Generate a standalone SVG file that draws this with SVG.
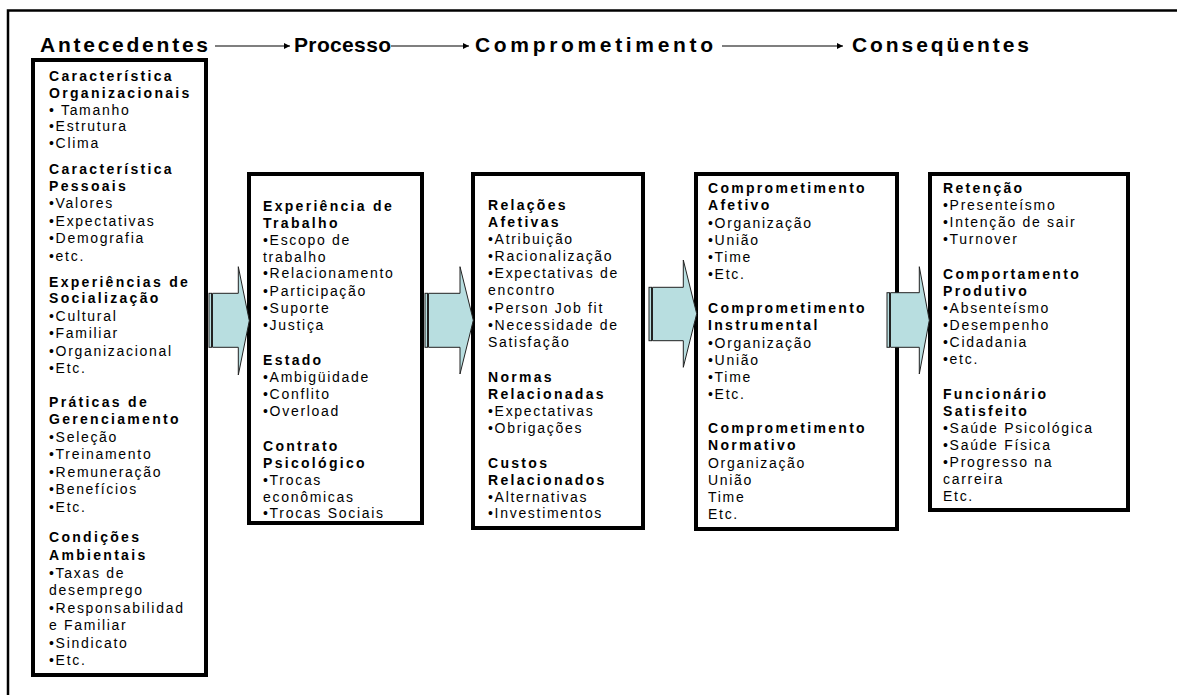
<svg xmlns="http://www.w3.org/2000/svg" width="1177" height="695" viewBox="0 0 1177 695">
<defs>
<style>
.hdr{font-family:"Liberation Sans",Arial,sans-serif;font-weight:bold;font-size:21px;fill:#000}
.b{font-family:"Liberation Sans",Arial,sans-serif;font-weight:bold;font-size:14px;letter-spacing:2.3px;fill:#000}
.r{font-family:"Liberation Sans",Arial,sans-serif;font-size:14px;letter-spacing:1.7px;fill:#000}
.box{fill:#fff;stroke:#000;stroke-width:4}
.ar{fill:#B8DEE0;stroke:#222;stroke-width:1}
.hl{stroke:#000;stroke-width:1.2;fill:none}
</style>
<marker id="ah" viewBox="0 0 10 10" refX="10" refY="5" markerWidth="8" markerHeight="6" markerUnits="userSpaceOnUse" orient="auto">
<path d="M0,0 L10,5 L0,10 Z" fill="#000"/>
</marker>
</defs>
<rect width="1177" height="695" fill="#fff"/>
<path d="M8,695 V10.5 H1177" fill="none" stroke="#000" stroke-width="2.5"/>

<g id="header">
<text class="hdr" x="40" y="52" textLength="168" lengthAdjust="spacing">Antecedentes</text>
<text class="hdr" x="294" y="52" textLength="97" lengthAdjust="spacing">Processo</text>
<text class="hdr" x="475" y="52" textLength="238" lengthAdjust="spacing">Comprometimento</text>
<text class="hdr" x="852" y="52" textLength="177" lengthAdjust="spacing">Conseqüentes</text>
</g>

<g id="connectors">
<line class="hl" x1="215" y1="46" x2="290" y2="46" marker-end="url(#ah)"/>
<line class="hl" x1="391" y1="46" x2="469" y2="46" marker-end="url(#ah)"/>
<line class="hl" x1="722" y1="46" x2="843" y2="46" marker-end="url(#ah)"/>
</g>

<g id="antecedentes">
<rect class="box" x="33" y="60" width="173" height="615"/>
<text class="b" x="49" y="80.5">Característica</text>
<text class="b" x="49" y="97.5">Organizacionais</text>
<text class="r" x="49" y="114.5">• Tamanho</text>
<text class="r" x="49" y="131">•Estrutura</text>
<text class="r" x="49" y="147.5">•Clima</text>
<text class="b" x="49" y="173.5">Característica</text>
<text class="b" x="49" y="190.5">Pessoais</text>
<text class="r" x="49" y="208">•Valores</text>
<text class="r" x="49" y="225.5">•Expectativas</text>
<text class="r" x="49" y="243">•Demografia</text>
<text class="r" x="49" y="260.5">•etc.</text>
<text class="b" x="49" y="286.5">Experiências de</text>
<text class="b" x="49" y="303">Socialização</text>
<text class="r" x="49" y="320.5">•Cultural</text>
<text class="r" x="49" y="338">•Familiar</text>
<text class="r" x="49" y="355.5">•Organizacional</text>
<text class="r" x="49" y="372.5">•Etc.</text>
<text class="b" x="49" y="406.5">Práticas de</text>
<text class="b" x="49" y="424">Gerenciamento</text>
<text class="r" x="49" y="441.5">•Seleção</text>
<text class="r" x="49" y="458.5">•Treinamento</text>
<text class="r" x="49" y="476.5">•Remuneração</text>
<text class="r" x="49" y="493.5">•Benefícios</text>
<text class="r" x="49" y="511.5">•Etc.</text>
<text class="b" x="49" y="541.5">Condições</text>
<text class="b" x="49" y="559.5">Ambientais</text>
<text class="r" x="49" y="577.5">•Taxas de</text>
<text class="r" x="49" y="594.5">desemprego</text>
<text class="r" x="49" y="612.5">•Responsabilidad</text>
<text class="r" x="49" y="630">e Familiar</text>
<text class="r" x="49" y="647.5">•Sindicato</text>
<text class="r" x="49" y="664.5">•Etc.</text>
</g>

<g id="processo">
<rect class="box" x="249" y="174" width="173" height="349"/>
<text class="b" x="263" y="210.5">Experiência de</text>
<text class="b" x="263" y="227.5">Trabalho</text>
<text class="r" x="263" y="245">•Escopo de</text>
<text class="r" x="263" y="261.5">trabalho</text>
<text class="r" x="263" y="278">•Relacionamento</text>
<text class="r" x="263" y="295.5">•Participação</text>
<text class="r" x="263" y="312.5">•Suporte</text>
<text class="r" x="263" y="329.5">•Justiça</text>
<text class="b" x="263" y="364.5">Estado</text>
<text class="r" x="263" y="381.5">•Ambigüidade</text>
<text class="r" x="263" y="398.5">•Conflito</text>
<text class="r" x="263" y="415.5">•Overload</text>
<text class="b" x="263" y="450.5">Contrato</text>
<text class="b" x="263" y="467.5">Psicológico</text>
<text class="r" x="263" y="485">•Trocas</text>
<text class="r" x="263" y="501.5">econômicas</text>
<text class="r" x="263" y="518">•Trocas Sociais</text>
</g>

<g id="comprometimento-relacoes">
<rect class="box" x="473" y="174" width="170" height="354"/>
<text class="b" x="488" y="209.5">Relações</text>
<text class="b" x="488" y="227">Afetivas</text>
<text class="r" x="488" y="243.5">•Atribuição</text>
<text class="r" x="488" y="261">•Racionalização</text>
<text class="r" x="488" y="277.5">•Expectativas de</text>
<text class="r" x="488" y="295">encontro</text>
<text class="r" x="488" y="312.5">•Person Job fit</text>
<text class="r" x="488" y="329.5">•Necessidade de</text>
<text class="r" x="488" y="347">Satisfação</text>
<text class="b" x="488" y="381.5">Normas</text>
<text class="b" x="488" y="398.5">Relacionadas</text>
<text class="r" x="488" y="415.5">•Expectativas</text>
<text class="r" x="488" y="432.5">•Obrigações</text>
<text class="b" x="488" y="467.5">Custos</text>
<text class="b" x="488" y="484.5">Relacionados</text>
<text class="r" x="488" y="501.5">•Alternativas</text>
<text class="r" x="488" y="517.5">•Investimentos</text>
</g>

<g id="comprometimento-tipos">
<rect class="box" x="696" y="174" width="201" height="355"/>
<text class="b" x="708" y="192.5">Comprometimento</text>
<text class="b" x="708" y="210">Afetivo</text>
<text class="r" x="708" y="227.5">•Organização</text>
<text class="r" x="708" y="244.5">•União</text>
<text class="r" x="708" y="261.5">•Time</text>
<text class="r" x="708" y="278.5">•Etc.</text>
<text class="b" x="708" y="312.5">Comprometimento</text>
<text class="b" x="708" y="330">Instrumental</text>
<text class="r" x="708" y="347.5">•Organização</text>
<text class="r" x="708" y="364.5">•União</text>
<text class="r" x="708" y="381.5">•Time</text>
<text class="r" x="708" y="398.5">•Etc.</text>
<text class="b" x="708" y="432.5">Comprometimento</text>
<text class="b" x="708" y="450">Normativo</text>
<text class="r" x="708" y="467.5">Organização</text>
<text class="r" x="708" y="484.5">União</text>
<text class="r" x="708" y="501.5">Time</text>
<text class="r" x="708" y="518.5">Etc.</text>
</g>

<g id="consequentes">
<rect class="box" x="930" y="174" width="198" height="336"/>
<text class="b" x="943" y="192.5">Retenção</text>
<text class="r" x="943" y="209.5">•Presenteísmo</text>
<text class="r" x="943" y="227">•Intenção de sair</text>
<text class="r" x="943" y="244">•Turnover</text>
<text class="b" x="943" y="278.5">Comportamento</text>
<text class="b" x="943" y="295.5">Produtivo</text>
<text class="r" x="943" y="312.5">•Absenteísmo</text>
<text class="r" x="943" y="330">•Desempenho</text>
<text class="r" x="943" y="347">•Cidadania</text>
<text class="r" x="943" y="364">•etc.</text>
<text class="b" x="943" y="398.5">Funcionário</text>
<text class="b" x="943" y="416">Satisfeito</text>
<text class="r" x="943" y="433">•Saúde Psicológica</text>
<text class="r" x="943" y="450">•Saúde Física</text>
<text class="r" x="943" y="467">•Progresso na</text>
<text class="r" x="943" y="484">carreira</text>
<text class="r" x="943" y="501">Etc.</text>
</g>

<g id="arrow1">
<rect class="ar" x="209" y="293.3" width="2.5" height="54"/>
<path class="ar" d="M212.5,293.3 H238.3 V266.7 L249.3,320.7 L238.3,375 V347.3 H212.5 Z"/>
</g>
<g id="arrow2">
<rect class="ar" x="425" y="293.3" width="2.5" height="54"/>
<path class="ar" d="M428.5,293.3 H460 V266.7 L473.3,320.3 L460,374 V347.3 H428.5 Z"/>
</g>
<g id="arrow3">
<rect class="ar" x="649" y="287.3" width="2.5" height="53.4"/>
<path class="ar" d="M652.5,287.3 H683.3 V260 L696.7,313.7 L683.3,367.3 V340.7 H652.5 Z"/>
</g>
<g id="arrow4">
<rect class="ar" x="887" y="292.7" width="2.5" height="54.6"/>
<path class="ar" d="M890.5,292.7 H919.3 V266.7 L929.3,320.3 L919.3,374 V347.3 H890.5 Z"/>
</g>
</svg>
